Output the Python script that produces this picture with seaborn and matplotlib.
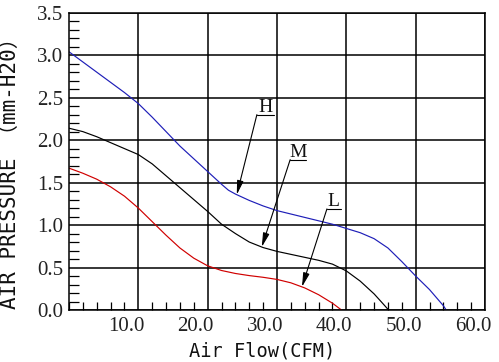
import numpy as np
import pandas as pd
import matplotlib
matplotlib.use('Agg')
import matplotlib.pyplot as plt
import matplotlib.transforms as mtransforms
from matplotlib.ticker import MultipleLocator
import seaborn as sns

# ---- data ----
h_flow = [0, 2, 4, 6, 8, 10, 12, 14, 16, 18, 20, 22, 23, 24, 26, 28, 30, 32, 34,
          36, 38, 40, 42, 44, 46, 48, 50, 52, 54, 54.4]
h_pressure = [3.04, 2.92, 2.80, 2.68, 2.56, 2.43, 2.27, 2.10, 1.93, 1.78, 1.63,
              1.48, 1.41, 1.365, 1.29, 1.225, 1.17, 1.13, 1.09, 1.05, 1.01, 0.96,
              0.91, 0.84, 0.73, 0.57, 0.40, 0.24, 0.05, 0.0]

m_flow = [0, 2, 4, 6, 8, 10, 12, 14, 16, 18, 20, 22, 24, 26, 28, 30, 32, 34,
          36, 38, 40, 42, 44, 45, 46.1]
m_pressure = [2.14, 2.10, 2.04, 1.97, 1.90, 1.83, 1.72, 1.58, 1.44, 1.30, 1.16,
              1.01, 0.90, 0.80, 0.735, 0.69, 0.655, 0.62, 0.585, 0.54, 0.46, 0.34,
              0.19, 0.10, 0.0]

l_flow = [0, 2, 4, 6, 8, 10, 12, 14, 16, 18, 20, 22, 24, 26, 28, 30, 32, 34,
          36, 38, 39.3]
l_pressure = [1.67, 1.61, 1.54, 1.45, 1.34, 1.20, 1.04, 0.88, 0.73, 0.61, 0.52,
              0.465, 0.43, 0.405, 0.385, 0.36, 0.32, 0.26, 0.18, 0.08, 0.0]

curve_names = ['H', 'M', 'L']
curve_colors = ['#1e1eb8', '#000000', '#d00000']

x_ticks = [10, 20, 30, 40, 50, 60]
x_tick_labels = ['10.0', '20.0', '30.0', '40.0', '50.0', '60.0']
y_ticks = [0.0, 0.5, 1.0, 1.5, 2.0, 2.5, 3.0, 3.5]
y_tick_labels = ['0.0', '0.5', '1.0', '1.5', '2.0', '2.5', '3.0', '3.5']

x_label = 'Air Flow(CFM)'
y_label = 'AIR PRESSURE （mm-H20）'

# ---- build long table ----
df = pd.concat([
    pd.DataFrame({'flow': h_flow, 'pressure': h_pressure, 'curve': 'H'}),
    pd.DataFrame({'flow': m_flow, 'pressure': m_pressure, 'curve': 'M'}),
    pd.DataFrame({'flow': l_flow, 'pressure': l_pressure, 'curve': 'L'}),
], ignore_index=True)

sns.set_style('white')
plt.rcParams['font.family'] = ['DejaVu Sans']

fig = plt.figure(figsize=(4.99, 3.62), dpi=100)
ax = fig.add_axes([69 / 499, 52 / 362, 416 / 499, 297.3 / 362])

sns.lineplot(data=df, x='flow', y='pressure', hue='curve',
             hue_order=curve_names,
             palette=dict(zip(curve_names, curve_colors)),
             estimator=None, sort=False, legend=False, lw=0.85, ax=ax)

ax.set_xlim(0, 60)
ax.set_ylim(0, 3.5)

ax.set_xticks(x_ticks, x_tick_labels)
ax.set_yticks(y_ticks, y_tick_labels)
ax.xaxis.set_minor_locator(MultipleLocator(2))
ax.yaxis.set_minor_locator(MultipleLocator(0.1))

ax.grid(True, which='major', color='black', lw=1.1)
ax.tick_params(which='major', length=0, labelsize=15)
ax.tick_params(axis='x', which='major', pad=5)
ax.tick_params(axis='y', which='major', pad=4)
ax.tick_params(axis='x', which='minor', direction='in', length=6, width=0.9,
               color='black', bottom=True, top=False)
ax.tick_params(axis='y', which='minor', direction='in', length=7, width=0.9,
               color='black', left=True, right=False)

for lbl in ax.get_xticklabels() + ax.get_yticklabels():
    lbl.set_fontfamily(['Liberation Serif'])
    lbl.set_color('#222222')
offset = mtransforms.ScaledTranslation(-0.12, 0, fig.dpi_scale_trans)
for lbl in ax.get_xticklabels():
    lbl.set_transform(lbl.get_transform() + offset)

for sp in ax.spines.values():
    sp.set_visible(True)
    sp.set_color('black')
    sp.set_linewidth(1.1)

ax.set_xlabel(x_label, fontsize=13.4, family=['DejaVu Sans Mono'], color='#111111')
ax.set_ylabel(y_label, fontsize=15, family=['DejaVu Sans Mono', 'Noto Sans CJK SC'],
              color='#111111')
ax.xaxis.set_label_coords(0.464, -0.105)
ax.yaxis.set_label_coords(-0.118, 0.476)

# ---- H / M / L callouts ----
series = {'H': (h_flow, h_pressure), 'M': (m_flow, m_pressure), 'L': (l_flow, l_pressure)}
callouts = [('H', 24.2, 27.1, 2.30, 2.4),
            ('M', 27.8, 31.9, 1.77, 2.3),
            ('L', 33.6, 37.2, 1.19, 2.0)]
for name, tip_x, ux, uy, uw in callouts:
    fx, fy = series[name]
    tip_y = float(np.interp(tip_x, fx, fy))
    ax.plot([ux, ux + uw], [uy, uy], color='black', lw=0.8)
    ax.annotate('', xy=(tip_x, tip_y), xytext=(ux, uy),
                arrowprops=dict(arrowstyle='-|>,head_length=0.7,head_width=0.16',
                                color='black', lw=0.8, shrinkA=0, shrinkB=0,
                                mutation_scale=12))
    ax.text(ux + uw / 2, uy + 0.03, name, ha='center', va='baseline',
            fontsize=14, family=['Liberation Serif'], color='#111111')

fig.savefig('out.png', dpi=100)
